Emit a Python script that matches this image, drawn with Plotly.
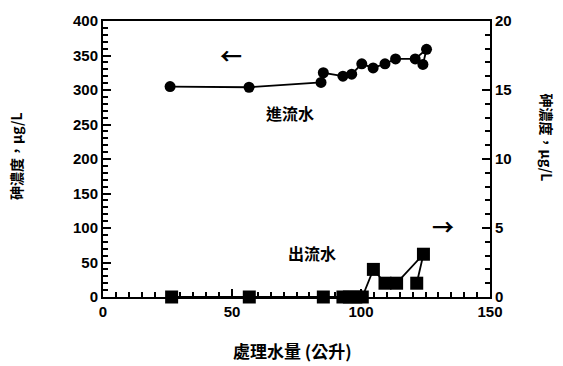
import plotly.graph_objects as go

# Treated water volume (L) and arsenic concentrations
inflow_volume = [26, 56.6, 84.5, 85.4, 93, 96.4, 100.3, 104.7, 109.3, 113.4, 121, 125.4, 124]
inflow_arsenic = [305, 304, 311, 325, 320, 323, 338, 332, 338, 345, 345, 359, 337]  # µg/L, left axis

outflow_volume = [26.6, 56.7, 85.4, 93, 95.5, 98, 100.5, 104.8, 109.3, 113.8, 124.2, 121.6]
outflow_arsenic = [0, 0, 0, 0, 0, 0, 0, 2.0, 1.0, 1.0, 3.1, 1.0]  # µg/L, right axis

x_ticks = [0, 50, 100, 150]
left_ticks = [0, 50, 100, 150, 200, 250, 300, 350, 400]
right_ticks = [0, 5, 10, 15, 20]

W, H = 563, 366
L, R, T, B = 103, 73, 13, 69
pw, ph = W - L - R, H - T - B

def px(x):
    return (x - L) / pw

def py(y):
    return (H - B - y) / ph

fig = go.Figure()
fig.add_trace(go.Scatter(
    x=inflow_volume, y=inflow_arsenic, mode="lines+markers",
    line=dict(color="black", width=1.8),
    marker=dict(symbol="circle", size=11, color="black"),
    showlegend=False,
))
fig.add_trace(go.Scatter(
    x=outflow_volume, y=outflow_arsenic, mode="lines+markers", yaxis="y2",
    line=dict(color="black", width=1.8),
    marker=dict(symbol="square", size=13, color="black"),
    showlegend=False, cliponaxis=False,
))

tick_font = dict(family="Liberation Sans, Arial", size=15, color="black", weight="bold")
cjk = "Noto Sans CJK TC"

def axis_common(values, minor_step):
    return dict(
        tickvals=values,
        ticks="inside", ticklen=8, tickwidth=2, tickcolor="black",
        minor=dict(ticks="inside", dtick=minor_step, ticklen=5, tickwidth=1.5, tickcolor="black"),
        showline=True, linecolor="black", linewidth=2,
        tickfont=tick_font,
    )

xa = axis_common(x_ticks, 5)
xa.update(range=[0, 150], mirror=True, showgrid=False, zeroline=False)
ya = axis_common(left_ticks, 10)
ya.update(range=[0, 400], showgrid=False, zeroline=False)
ya2 = axis_common(right_ticks, 1)
ya2.update(range=[0, 20], overlaying="y", side="right", showgrid=False, zeroline=False)

fig.update_layout(
    width=W, height=H,
    margin=dict(l=L, r=R, t=T, b=B),
    paper_bgcolor="white", plot_bgcolor="white",
    xaxis=xa, yaxis=ya, yaxis2=ya2,
)

ann = [
    dict(text="←", x=px(231), y=py(47), font=dict(family=cjk, size=22)),
    dict(text="→", x=px(443), y=py(223), font=dict(family=cjk, size=22)),
    dict(text="進流水", x=px(290), y=py(108), font=dict(family=cjk, size=16)),
    dict(text="出流水", x=px(312), y=py(252), font=dict(family=cjk, size=16)),
    dict(text="處理水量 (公升)", x=px(292), y=py(352), font=dict(family=cjk, size=17)),
    dict(text="砷濃度，µg/L", x=px(16), y=py(152), textangle=-90, font=dict(family=cjk, size=14)),
    dict(text="砷濃度，µg/L", x=px(547), y=py(133), textangle=90, font=dict(family=cjk, size=14)),
]
for a in ann:
    a["font"]["color"] = "black"
    a["font"]["weight"] = "bold"
    fig.add_annotation(xref="paper", yref="paper", showarrow=False,
                       xanchor="center", yanchor="middle", **a)

fig.write_html("out.html")
